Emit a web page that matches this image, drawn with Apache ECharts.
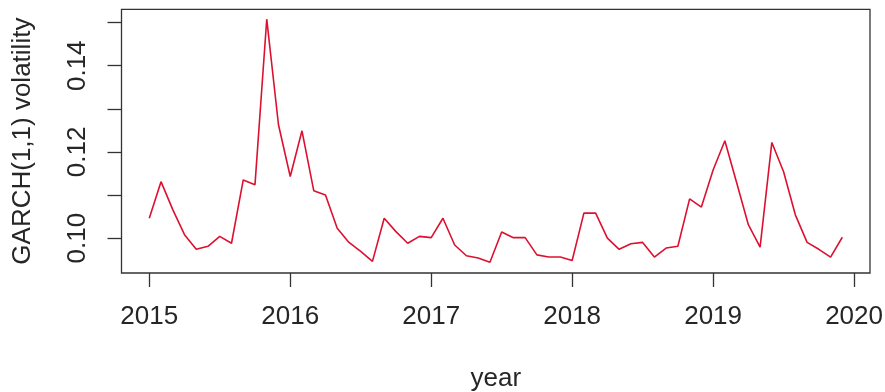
<!DOCTYPE html>
<html>
<head>
<meta charset="utf-8">
<script src="https://cdn.jsdelivr.net/npm/echarts@6/dist/echarts.min.js"></script>
<style>
  html, body { margin: 0; padding: 0; background: #fff; }
  #chart { width: 885px; height: 392px; }
</style>
</head>
<body>
<div id="chart"></div>
<script>
// Monthly GARCH(1,1) volatility estimates, Jan 2015 - Dec 2019
const startYear = 2015;
const volatility = [
  0.1046, 0.1131, 0.1066, 0.1008, 0.0974, 0.0981, 0.1004, 0.0988, 0.1135, 0.1124, 0.1508, 0.1263,
  0.1143, 0.1249, 0.1110, 0.1100, 0.1023, 0.0990, 0.0969, 0.0946, 0.1046, 0.1015, 0.0988, 0.1004,
  0.1001, 0.1046, 0.0984, 0.0959, 0.0954, 0.0944, 0.1014, 0.1001, 0.1001, 0.0961, 0.0956, 0.0956,
  0.0948, 0.1058, 0.1058, 0.1000, 0.0974, 0.0987, 0.0990, 0.0956, 0.0977, 0.0981, 0.1091, 0.1072,
  0.1158, 0.1226, 0.1129, 0.1031, 0.0979, 0.1222, 0.1154, 0.1054, 0.0990, 0.0974, 0.0956, 0.1002
];
const yearTicks = [2015, 2016, 2017, 2018, 2019, 2020];
const volTicks = [0.10, 0.11, 0.12, 0.13, 0.14, 0.15];
const volLabels = [0.10, 0.12, 0.14];

// time index in fractional years
const series = volatility.map((v, i) => [startYear + i / 12, v]);

const font = "'Liberation Sans', Arial, sans-serif";
const ink = '#262626';
const frame = '#333333';

const chart = echarts.init(document.getElementById('chart'), null, { renderer: 'canvas' });
chart.setOption({
  animation: false,
  backgroundColor: '#ffffff',
  grid: {
    show: true,
    left: 121.5, right: 15, top: 9.3, bottom: 119,
    outerBoundsMode: 'none',
    containLabel: false,
    borderColor: frame, borderWidth: 1.3,
    backgroundColor: 'transparent'
  },
  xAxis: {
    type: 'value',
    min: 2014.803, max: 2020.113,
    name: 'year', nameLocation: 'middle', nameGap: 93,
    nameTextStyle: { fontFamily: font, fontSize: 26, color: ink },
    axisLine: { show: false },
    splitLine: { show: false },
    axisTick: { show: true, customValues: yearTicks, length: 14, lineStyle: { color: frame, width: 1.3 } },
    axisLabel: {
      customValues: yearTicks, fontFamily: font, fontSize: 26, color: ink, margin: 31,
      formatter: v => String(Math.round(v))
    }
  },
  yAxis: {
    type: 'value',
    min: 0.0919, max: 0.1531,
    name: 'GARCH(1,1) volatility', nameLocation: 'middle', nameGap: 86, nameRotate: 90,
    nameTextStyle: { fontFamily: font, fontSize: 26, color: ink },
    axisLine: { show: false },
    splitLine: { show: false },
    axisTick: { show: true, customValues: volTicks, length: 14, lineStyle: { color: frame, width: 1.3 } },
    axisLabel: {
      customValues: volLabels, rotate: 90, fontFamily: font, fontSize: 26, color: ink, margin: 31,
      formatter: v => v.toFixed(2)
    }
  },
  series: [{
    type: 'line',
    data: series,
    symbol: 'none',
    lineStyle: { color: '#dd1030', width: 1.6 }
  }]
});
</script>
</body>
</html>
